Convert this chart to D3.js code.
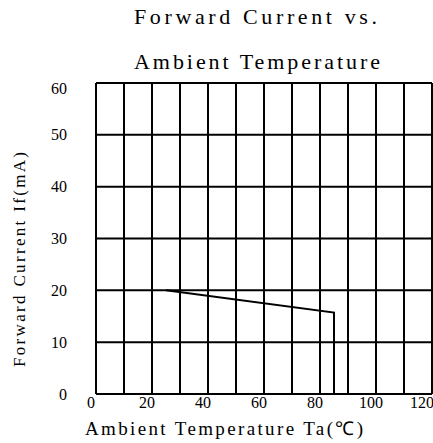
<!DOCTYPE html>
<html><head><meta charset="utf-8">
<script src="https://cdn.jsdelivr.net/npm/d3@7"></script>
<style>body{margin:0;background:#fff}</style>
</head><body>
<script>
const titleLines = ["Forward Current vs.", "Ambient Temperature"];
const xLabel = "Ambient Temperature Ta(℃)";
const yLabel = "Forward Current If(mA)";
const xTicks = [0, 20, 40, 60, 80, 100, 120];
const yTicks = [0, 10, 20, 30, 40, 50, 60];
const xGrid = [0,10,20,30,40,50,60,70,80,90,100,110,120];
const temps = [25, 85, 85];
const currents = [20, 15.7, 0];

const W = 433, H = 443;
const svg = d3.select("body").append("svg").attr("width", W).attr("height", H);
const x = d3.scaleLinear().domain([0,120]).range([96,432]);
const y = d3.scaleLinear().domain([0,60]).range([394,83]);
const serif = "'Times New Roman', 'Liberation Serif', serif";

// grid
svg.append("g").selectAll("line").data(xGrid).join("line")
  .attr("x1", d=>x(d)).attr("x2", d=>x(d)).attr("y1", y(0)).attr("y2", y(60))
  .attr("stroke","#000").attr("stroke-width",2);
svg.append("g").selectAll("line").data(yTicks).join("line")
  .attr("x1", x(0)).attr("x2", x(120)).attr("y1", d=>y(d)).attr("y2", d=>y(d))
  .attr("stroke","#000").attr("stroke-width",2);

// curve
const pts = temps.map((t,i)=>[t, currents[i]]);
svg.append("path").datum(pts)
  .attr("d", d3.line().x(d=>x(d[0])).y(d=>y(d[1])))
  .attr("fill","none").attr("stroke","#000").attr("stroke-width",2);

// x tick labels
svg.append("g").selectAll("text").data(xTicks).join("text")
  .attr("x", d=>x(d)-5-(d===120?5:0)).attr("y", 408)
  .attr("text-anchor","middle").attr("font-family",serif).attr("font-size",16)
  .text(d=>d);
// y tick labels
svg.append("g").selectAll("text").data(yTicks).join("text")
  .attr("x", 67).attr("y", d=>y(d)+(d===60?5:0)).attr("dy","0.35em")
  .attr("text-anchor","end").attr("font-family",serif).attr("font-size",16)
  .text(d=>d);

// titles
const titleWidths = [243, 246];
svg.append("g").selectAll("text").data(titleLines).join("text")
  .attr("x", 134).attr("y", (d,i)=>24+i*45)
  .attr("font-family",serif).attr("font-size",22)
  .attr("textLength",(d,i)=>titleWidths[i]).attr("lengthAdjust","spacing")
  .text(d=>d);
svg.append("text").attr("x", 85).attr("y", 435)
  .attr("font-family",serif).attr("font-size",19)
  .attr("textLength",278).attr("lengthAdjust","spacing")
  .text(xLabel);
svg.append("text").attr("transform","translate(25,367) rotate(-90)")
  .attr("font-family",serif).attr("font-size",17)
  .attr("textLength",215).attr("lengthAdjust","spacing")
  .text(yLabel);
</script>
</body></html>
